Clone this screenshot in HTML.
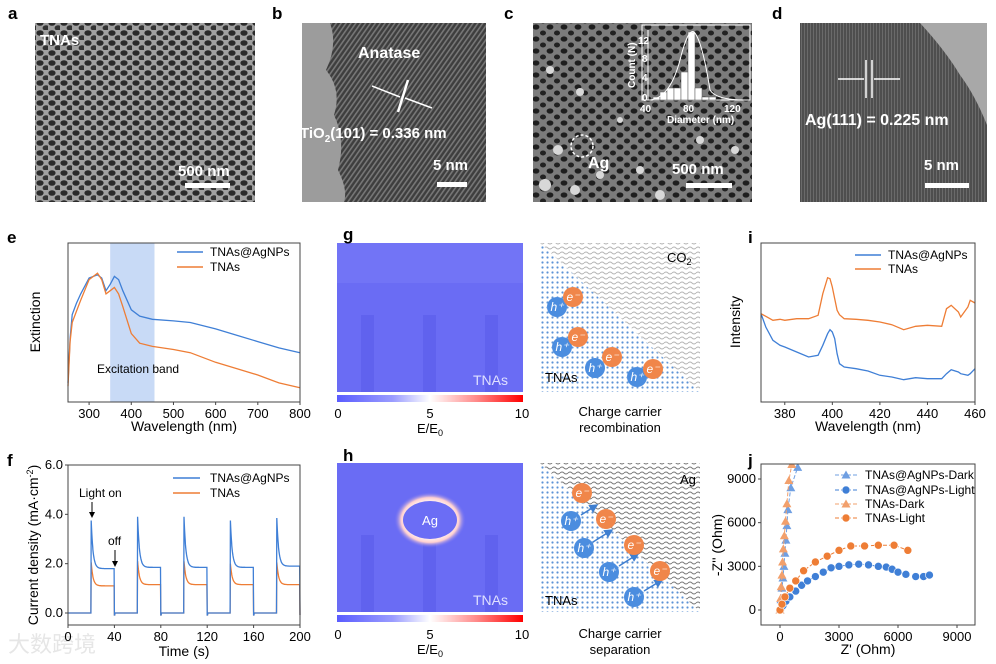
<!DOCTYPE html>
<html><head><meta charset="utf-8"><style>
html,body{margin:0;padding:0;background:#fff;}
svg{display:block;font-family:"Liberation Sans",Arial,sans-serif;}
</style></head><body>
<svg id="fig" width="996" height="664" viewBox="0 0 996 664" xmlns="http://www.w3.org/2000/svg">
<defs>
<pattern id="semA" patternUnits="userSpaceOnUse" width="12" height="10">
<rect width="12" height="10" fill="#a0a0a0"/><ellipse cx="4" cy="3" rx="3.6" ry="2.8" fill="#2a2a2a"/><ellipse cx="10" cy="8" rx="3.4" ry="2.7" fill="#333"/></pattern>
<pattern id="semC" patternUnits="userSpaceOnUse" width="14" height="12">
<rect width="14" height="12" fill="#7c7c7c"/><ellipse cx="4" cy="3" rx="3.4" ry="2.6" fill="#1e1e1e"/><ellipse cx="11" cy="9" rx="3" ry="2.5" fill="#222"/></pattern>
<pattern id="latB" patternUnits="userSpaceOnUse" width="4" height="4" patternTransform="rotate(35)">
<rect width="4" height="4" fill="#3e3e3e"/><rect width="1.6" height="4" fill="#777"/></pattern>
<pattern id="latD" patternUnits="userSpaceOnUse" width="3" height="3">
<rect width="3" height="3" fill="#4e4e4e"/><rect width="1" height="3" fill="#6a6a6a"/></pattern>
<pattern id="dotBlue" patternUnits="userSpaceOnUse" width="5" height="5">
<rect width="5" height="5" fill="#fff"/><circle cx="2.5" cy="2.5" r="1.1" fill="#5d93d6"/></pattern>
<pattern id="wavGray" patternUnits="userSpaceOnUse" width="8" height="5">
<rect width="8" height="5" fill="#fff"/><path d="M0 3 Q2 1 4 3 T8 3" stroke="#b4b4b4" stroke-width="0.9" fill="none"/></pattern>
<pattern id="wavDark" patternUnits="userSpaceOnUse" width="8" height="5">
<rect width="8" height="5" fill="#fff"/><path d="M0 3 Q2 1 4 3 T8 3" stroke="#777" stroke-width="0.9" fill="none"/></pattern>
<linearGradient id="cbar" x1="0" x2="1" y1="0" y2="0">
<stop offset="0" stop-color="#5a5cff"/><stop offset="0.3" stop-color="#9a9cff"/><stop offset="0.5" stop-color="#ffffff"/><stop offset="0.75" stop-color="#ff8a8a"/><stop offset="1" stop-color="#ff0000"/></linearGradient>
<radialGradient id="agglow" cx="0.5" cy="0.5" r="0.5">
<stop offset="0.6" stop-color="#ffffff"/><stop offset="0.8" stop-color="#ffd0d0"/><stop offset="1" stop-color="#6b6df5" stop-opacity="0"/></radialGradient>
<marker id="arr" markerWidth="6" markerHeight="6" refX="5" refY="3" orient="auto"><path d="M0 0 L6 3 L0 6 z" fill="#000"/></marker>
<marker id="arrB" markerWidth="6" markerHeight="6" refX="5" refY="3" orient="auto"><path d="M0 0 L6 3 L0 6 z" fill="#3f7fd0"/></marker>
</defs>

<!-- a -->
<g>
<rect x="35" y="23" width="220" height="179" fill="url(#semA)"/>
<text x="40" y="45" fill="#fff" font-weight="bold" font-size="15">TNAs</text>
<text x="178" y="176" fill="#fff" font-weight="bold" font-size="15">500 nm</text>
<rect x="185" y="183" width="45" height="5" fill="#fff"/>
</g>
<!-- b -->
<g>
<rect x="302" y="23" width="184" height="179" fill="url(#latB)"/>
<path d="M302 23 L330 23 Q338 45 326 70 Q342 90 334 115 Q346 140 338 170 Q348 190 344 202 L302 202 Z" fill="#9c9c9c"/>
<text x="358" y="58" fill="#fff" font-weight="bold" font-size="16">Anatase</text>
<line x1="398" y1="112" x2="408" y2="80" stroke="#fff" stroke-width="2.5"/>
<line x1="372" y1="86" x2="400" y2="97" stroke="#fff" stroke-width="1.5"/>
<line x1="432" y1="108" x2="405" y2="98" stroke="#fff" stroke-width="1.5"/>
<text x="300" y="138" fill="#fff" font-weight="bold" font-size="15">TiO<tspan font-size="10" dy="4">2</tspan><tspan dy="-4">(101) = 0.336 nm</tspan></text>
<text x="433" y="170" fill="#fff" font-weight="bold" font-size="15">5 nm</text>
<rect x="437" y="182" width="30" height="5" fill="#fff"/>
</g>
<!-- c -->
<g>
<rect x="533" y="23" width="219" height="179" fill="url(#semC)"/>
<g fill="#d8d8d8"><circle cx="550" cy="70" r="4"/><circle cx="558" cy="150" r="5"/><circle cx="545" cy="185" r="6"/><circle cx="575" cy="190" r="5"/><circle cx="600" cy="175" r="4"/><circle cx="640" cy="170" r="4"/><circle cx="660" cy="195" r="5"/><circle cx="700" cy="140" r="4"/><circle cx="735" cy="150" r="4"/><circle cx="580" cy="92" r="4"/><circle cx="620" cy="120" r="3"/></g>
<circle cx="582" cy="146" r="11" fill="none" stroke="#fff" stroke-width="1.5" stroke-dasharray="3,2"/>
<text x="588" y="168" fill="#fff" font-weight="bold" font-size="16">Ag</text>
<g>
<rect x="642" y="25" width="108" height="75" fill="none" stroke="#fff" stroke-width="1"/>
<line x1="648" y1="30" x2="648" y2="100" stroke="#fff"/>
<line x1="648" y1="100" x2="748" y2="100" stroke="#fff"/>
<g fill="#fff" stroke="#555" stroke-width="0.5">
<rect x="653" y="97" width="7" height="3"/><rect x="660" y="92" width="7" height="8"/><rect x="667" y="88" width="7" height="12"/><rect x="674" y="88" width="7" height="12"/><rect x="681" y="72" width="7" height="28"/><rect x="688" y="32" width="7" height="68"/><rect x="695" y="88" width="7" height="12"/><rect x="702" y="97" width="7" height="3"/><rect x="709" y="97" width="7" height="3"/></g>
<path d="M650 100 Q670 98 680 60 Q688 28 694 32 Q702 40 710 90 Q716 100 745 100" fill="none" stroke="#fff" stroke-width="1"/>
<g fill="#fff" font-size="10" font-weight="bold"><text x="638" y="44">12</text><text x="642" y="62">8</text><text x="642" y="81">4</text><text x="642" y="101">0</text>
<text x="640" y="112">40</text><text x="683" y="112">80</text><text x="724" y="112">120</text>
<text x="667" y="123">Diameter (nm)</text>
<text x="0" y="0" transform="translate(635,88) rotate(-90)">Count (N)</text></g>
</g>
<text x="672" y="174" fill="#fff" font-weight="bold" font-size="15">500 nm</text>
<rect x="686" y="183" width="46" height="5" fill="#fff"/>
</g>
<!-- d -->
<g>
<rect x="800" y="23" width="187" height="179" fill="url(#latD)"/>
<path d="M920 23 L987 23 L987 125 Q975 95 960 75 Q945 50 920 23 Z" fill="#a8a8a8"/>
<line x1="866" y1="60" x2="866" y2="98" stroke="#fff" stroke-width="1.5"/>
<line x1="872" y1="60" x2="872" y2="98" stroke="#fff" stroke-width="1.5"/>
<line x1="838" y1="79" x2="864" y2="79" stroke="#fff" stroke-width="1.5"/>
<line x1="900" y1="79" x2="874" y2="79" stroke="#fff" stroke-width="1.5"/>
<text x="805" y="125" fill="#fff" font-weight="bold" font-size="16">Ag(111) = 0.225 nm</text>
<text x="924" y="170" fill="#fff" font-weight="bold" font-size="15">5 nm</text>
<rect x="925" y="183" width="44" height="5" fill="#fff"/>
</g>

<!-- g heatmap -->
<g>
<rect x="337" y="243" width="186" height="149" fill="#6a6cf4"/>
<rect x="337" y="243" width="186" height="40" fill="#7274f6"/>
<rect x="361" y="315" width="13" height="77" fill="#6062ee"/>
<rect x="423" y="315" width="13" height="77" fill="#6062ee"/>
<rect x="485" y="315" width="13" height="77" fill="#6062ee"/>
<text x="473" y="385" fill="#dfe0ff" font-size="14">TNAs</text>
<rect x="337" y="395" width="186" height="7" fill="url(#cbar)"/>
<g font-size="13" text-anchor="middle"><text x="338" y="418">0</text><text x="430" y="418">5</text><text x="522" y="418">10</text>
<text x="430" y="433">E/E<tspan font-size="9" dy="3">0</tspan></text></g>
</g>
<!-- g schematic -->
<g>
<polygon points="540,243 700,243 700,392" fill="url(#wavGray)"/>
<polygon points="540,243 700,392 540,392" fill="url(#dotBlue)"/>
<text x="667" y="262" font-size="13">CO<tspan font-size="9" dy="3">2</tspan></text>
<text x="545" y="382" font-size="13">TNAs</text>
<g font-size="12" font-style="italic" fill="#fff" text-anchor="middle">
<circle cx="557" cy="307" r="10" fill="#4b8ddf"/><text x="557" y="311">h⁺</text>
<circle cx="573" cy="297" r="10" fill="#f0864a"/><text x="573" y="301">e⁻</text>
<circle cx="562" cy="347" r="10" fill="#4b8ddf"/><text x="562" y="351">h⁺</text>
<circle cx="578" cy="337" r="10" fill="#f0864a"/><text x="578" y="341">e⁻</text>
<circle cx="595" cy="368" r="10" fill="#4b8ddf"/><text x="595" y="372">h⁺</text>
<circle cx="612" cy="357" r="10" fill="#f0864a"/><text x="612" y="361">e⁻</text>
<circle cx="637" cy="377" r="10" fill="#4b8ddf"/><text x="637" y="381">h⁺</text>
<circle cx="653" cy="369" r="10" fill="#f0864a"/><text x="653" y="373">e⁻</text></g>
<g font-size="13" text-anchor="middle"><text x="620" y="416">Charge carrier</text><text x="620" y="432">recombination</text></g>
</g>

<!-- h heatmap -->
<g>
<rect x="337" y="463" width="186" height="149" fill="#6a6cf4"/>
<rect x="361" y="535" width="13" height="77" fill="#6062ee"/>
<rect x="423" y="535" width="13" height="77" fill="#6062ee"/>
<rect x="485" y="535" width="13" height="77" fill="#6062ee"/>
<ellipse cx="430" cy="520" rx="36" ry="28" fill="url(#agglow)"/>
<ellipse cx="430" cy="520" rx="27" ry="19" fill="#6b6df5"/>
<text x="430" y="525" fill="#fff" font-size="13" text-anchor="middle">Ag</text>
<text x="473" y="605" fill="#dfe0ff" font-size="14">TNAs</text>
<rect x="337" y="615" width="186" height="7" fill="url(#cbar)"/>
<g font-size="13" text-anchor="middle"><text x="338" y="639">0</text><text x="430" y="639">5</text><text x="522" y="639">10</text>
<text x="430" y="654">E/E<tspan font-size="9" dy="3">0</tspan></text></g>
</g>
<!-- h schematic -->
<g>
<polygon points="540,463 700,463 700,612" fill="url(#wavDark)"/>
<polygon points="540,463 700,612 540,612" fill="url(#dotBlue)"/>
<text x="680" y="484" font-size="13">Ag</text>
<text x="545" y="605" font-size="13">TNAs</text>
<g stroke="#3f7fd0" stroke-width="1.5" marker-end="url(#arrB)">
<line x1="581" y1="515" x2="597" y2="505"/><line x1="593" y1="542" x2="612" y2="530"/><line x1="619" y1="566" x2="638" y2="554"/><line x1="644" y1="591" x2="662" y2="580"/></g>
<g font-size="12" font-style="italic" fill="#fff" text-anchor="middle">
<circle cx="582" cy="493" r="10" fill="#f0864a"/><text x="582" y="497">e⁻</text>
<circle cx="571" cy="521" r="10" fill="#4b8ddf"/><text x="571" y="525">h⁺</text>
<circle cx="606" cy="519" r="10" fill="#f0864a"/><text x="606" y="523">e⁻</text>
<circle cx="584" cy="548" r="10" fill="#4b8ddf"/><text x="584" y="552">h⁺</text>
<circle cx="634" cy="545" r="10" fill="#f0864a"/><text x="634" y="549">e⁻</text>
<circle cx="609" cy="572" r="10" fill="#4b8ddf"/><text x="609" y="576">h⁺</text>
<circle cx="660" cy="571" r="10" fill="#f0864a"/><text x="660" y="575">e⁻</text>
<circle cx="634" cy="597" r="10" fill="#4b8ddf"/><text x="634" y="601">h⁺</text></g>
<g font-size="13" text-anchor="middle"><text x="620" y="638">Charge carrier</text><text x="620" y="654">separation</text></g>
</g>

<text x="8" y="652" font-size="22" fill="#e6e6e6" font-family="'Liberation Sans','Noto Sans CJK SC',sans-serif">大数跨境</text>

<!-- panel labels (on top) -->
<g font-weight="bold" font-size="17" fill="#000">
<text x="8" y="19">a</text>
<text x="272" y="19">b</text>
<text x="504" y="19">c</text>
<text x="772" y="19">d</text>
<text x="7" y="243">e</text>
<text x="343" y="240">g</text>
<text x="748" y="243">i</text>
<text x="7" y="466">f</text>
<text x="343" y="461">h</text>
<text x="748" y="466">j</text>
</g>
</svg>
<script>
// ---- data: panel e ----
const eWl = [250,255,260,270,280,300,320,330,340,350,360,370,380,400,420,450,500,540,600,650,700,750,800];
const eBlue = [0.12,0.40,0.55,0.62,0.68,0.78,0.80,0.78,0.70,0.74,0.79,0.77,0.70,0.58,0.54,0.52,0.51,0.50,0.46,0.42,0.38,0.34,0.31];
const eOrange = [0.10,0.38,0.50,0.57,0.64,0.77,0.81,0.77,0.68,0.70,0.72,0.68,0.60,0.43,0.37,0.35,0.33,0.31,0.25,0.21,0.17,0.12,0.09];
const eTicks = [300,400,500,600,700,800];
const eBand = [350,455];
// ---- data: panel f ----
const fOnTimes = [20,60,100,140,180];
const fBluePeak = [3.75,3.9,3.9,3.75,3.85];
const fBlueSteady = [1.8,1.85,1.85,1.85,1.9];
const fOrangePeak = [2.05,2.1,2.1,2.0,2.05];
const fOrangeSteady = [1.1,1.15,1.15,1.15,1.15];
const fXTicks = [0,40,80,120,160,200];
const fYTicks = [0,2,4,6];
// ---- data: panel i ----
const iWl = [370,372,375,378,380,385,390,394,396,398,399,400,401,402,403,405,410,415,420,425,430,435,440,446,448,450,453,454,457,458,460];
const iOrange = [265,257,245,248,245,250,250,260,325,373,370,345,310,275,262,250,248,245,240,232,217,227,230,227,280,290,270,255,285,305,297];
const iBlue = [265,225,185,170,165,150,135,140,170,205,217,210,190,145,115,105,100,93,80,75,67,73,70,70,85,97,90,85,80,85,100];
const iTicks = [380,400,420,440,460];
// ---- data: panel j ----
const jBlueLightX = [0,50,150,300,500,800,1100,1400,1800,2200,2600,3000,3500,4000,4500,5000,5400,5700,6000,6400,6900,7300,7600];
const jBlueLightY = [0,100,300,600,900,1300,1700,2000,2300,2600,2900,3000,3100,3150,3100,3000,2950,2800,2600,2450,2300,2300,2400];
const jOrangeLightX = [0,100,250,500,800,1200,1800,2400,3000,3600,4300,5000,5800,6500];
const jOrangeLightY = [0,400,900,1500,2000,2700,3300,3700,4100,4400,4400,4450,4450,4100];
const jBlueDarkX = [0,50,100,150,200,250,300,350,400,550,900];
const jBlueDarkY = [0,700,1500,2200,3000,3900,4800,5800,6900,8400,9800];
const jOrangeDarkX = [0,30,60,100,130,170,220,280,350,450,600];
const jOrangeDarkY = [0,800,1600,2400,3300,4200,5100,6100,7300,8900,10000];
const jTicks = [0,3000,6000,9000];

const NS='http://www.w3.org/2000/svg';
const svg=document.getElementById('fig');
function mk(tag,attrs,parent){const e=document.createElementNS(NS,tag);for(const k in attrs)e.setAttribute(k,attrs[k]);(parent||svg).appendChild(e);return e;}
function lin(d0,d1,r0,r1){return v=>r0+(v-d0)*(r1-r0)/(d1-d0);}
const BLUE='#3f7fd6', ORANGE='#ee7d35';
function txt(x,y,s,attrs,parent){const t=mk('text',Object.assign({x:x,y:y,'font-size':13},attrs||{}),parent);t.textContent=s;return t;}
function pathFrom(xs,ys,sx,sy){return xs.map((v,i)=>(i?'L':'M')+sx(v).toFixed(1)+' '+sy(ys[i]).toFixed(1)).join(' ');}

// ===== panel e =====
(function(){
 const g=mk('g',{});
 
 
 const X0=68,X1=300,Y0=402,Y1=243;
 const sx=lin(250,800,X0,X1), sy=lin(0,1,Y0,Y1);
 const band=mk('rect',{x:sx(eBand[0]),y:Y1,width:sx(eBand[1])-sx(eBand[0]),height:Y0-Y1,fill:'#c8daf6'},g);
 
 
 const bt=txt(97,373,'Excitation band',{'font-size':12},g);
 
 
 const pb=mk('path',{d:pathFrom(eWl,eBlue,sx,sy),fill:'none',stroke:BLUE,'stroke-width':1.3},g);
 
 
 const po=mk('path',{d:pathFrom(eWl,eOrange,sx,sy),fill:'none',stroke:ORANGE,'stroke-width':1.3},g);
 
 
 const fr=mk('rect',{x:X0,y:Y1,width:X1-X0,height:Y0-Y1,fill:'none',stroke:'#444','stroke-width':1},g);
 
 
 eTicks.forEach(t=>{mk('line',{x1:sx(t),x2:sx(t),y1:Y0,y2:Y0+3,stroke:'#444'},g);
  const l=txt(sx(t),Y0+16,String(t),{'text-anchor':'middle'},g);
  
  });
 const xt=txt(184,431,'Wavelength (nm)',{'text-anchor':'middle','font-size':14},g);
 
 
 const yt=txt(0,0,'Extinction',{'text-anchor':'middle','font-size':14,transform:'translate(40,322) rotate(-90)'},g);
 
 
 [[BLUE,'TNAs@AgNPs',252],[ORANGE,'TNAs',267]].forEach(([c,s,y])=>{
  const le=mk('g',{},g);
  
  
  mk('line',{x1:177,x2:203,y1:y,y2:y,stroke:c,'stroke-width':1.5},le);
  txt(210,y+4,s,{'font-size':12},le);});
})();

// ===== panel f =====
(function(){
 const g=mk('g',{});
 
 
 const X0=68,X1=300,Y0=625,Y1=465;
 const sx=lin(0,200,X0,X1), sy=lin(0,6,613,465);
 function series(peaks,steady){
  const xs=[],ys=[];
  for(let t=0;t<=200;t+=0.25){
   let v=0;
   fOnTimes.forEach((on,k)=>{ if(t>=on && t<on+20){ v=steady[k]+(peaks[k]-steady[k])*Math.exp(-(t-on)/1.6); } });
   fOnTimes.forEach(on=>{ if(t>=on+20 && t<on+20.5) v=-0.08; });
   xs.push(t); ys.push(v);
  }
  return pathFrom(xs,ys,sx,sy);
 }
 const po=mk('path',{d:series(fOrangePeak,fOrangeSteady),fill:'none',stroke:ORANGE,'stroke-width':1.3},g);
 
 
 const pb=mk('path',{d:series(fBluePeak,fBlueSteady),fill:'none',stroke:BLUE,'stroke-width':1.3},g);
 
 
 const fr=mk('rect',{x:X0,y:Y1,width:X1-X0,height:Y0-Y1,fill:'none',stroke:'#444'},g);
 
 
 fXTicks.forEach(t=>{mk('line',{x1:sx(t),x2:sx(t),y1:Y0,y2:Y0+3,stroke:'#444'},g);
  const l=txt(sx(t),Y0+16,String(t),{'text-anchor':'middle'},g);
  
  });
 fYTicks.forEach(t=>{mk('line',{x1:X0-3,x2:X0,y1:sy(t),y2:sy(t),stroke:'#444'},g);
  const l=txt(X0-5,sy(t)+4,t.toFixed(1),{'text-anchor':'end'},g);
  
  });
 const xt=txt(184,656,'Time (s)',{'text-anchor':'middle','font-size':14},g);
 
 
 const yt=mk('text',{'text-anchor':'middle','font-size':14,transform:'translate(38,545) rotate(-90)'},g);
 yt.innerHTML='Current density (mA·cm<tspan font-size="9" dy="-5">-2</tspan><tspan dy="5">)</tspan>';
 
 
 const a1=txt(79,497,'Light on',{'font-size':12},g);
 
 
 mk('line',{x1:92,x2:92,y1:502,y2:517,stroke:'#000','marker-end':'url(#arr)'},g);
 const a2=txt(108,545,'off',{'font-size':12},g);
 
 
 mk('line',{x1:115,x2:115,y1:550,y2:566,stroke:'#000','marker-end':'url(#arr)'},g);
 [[BLUE,'TNAs@AgNPs',478],[ORANGE,'TNAs',493]].forEach(([c,s,y])=>{
  const le=mk('g',{},g);
  
  
  mk('line',{x1:173,x2:200,y1:y,y2:y,stroke:c,'stroke-width':1.5},le);
  txt(210,y+4,s,{'font-size':12},le);});
})();

// ===== panel i =====
(function(){
 const g=mk('g',{});
 
 
 const X0=761,X1=975,Y0=402,Y1=243;
 const sx=lin(370,460,X0,X1), sy=lin(0,477,Y0,Y1);
 const pb=mk('path',{d:pathFrom(iWl,iBlue,sx,sy),fill:'none',stroke:BLUE,'stroke-width':1.3},g);
 
 
 const po=mk('path',{d:pathFrom(iWl,iOrange,sx,sy),fill:'none',stroke:ORANGE,'stroke-width':1.3},g);
 
 
 const fr=mk('rect',{x:X0,y:Y1,width:X1-X0,height:Y0-Y1,fill:'none',stroke:'#444'},g);
 
 
 iTicks.forEach(t=>{mk('line',{x1:sx(t),x2:sx(t),y1:Y0,y2:Y0+3,stroke:'#444'},g);
  const l=txt(sx(t),Y0+16,String(t),{'text-anchor':'middle'},g);
  
  });
 const xt=txt(868,431,'Wavelength (nm)',{'text-anchor':'middle','font-size':14},g);
 
 
 const yt=txt(0,0,'Intensity',{'text-anchor':'middle','font-size':14,transform:'translate(740,322) rotate(-90)'},g);
 
 
 [[BLUE,'TNAs@AgNPs',255],[ORANGE,'TNAs',269]].forEach(([c,s,y])=>{
  const le=mk('g',{},g);
  
  
  mk('line',{x1:855,x2:881,y1:y,y2:y,stroke:c,'stroke-width':1.5},le);
  txt(888,y+4,s,{'font-size':12},le);});
})();

// ===== panel j =====
(function(){
 const g=mk('g',{});
 
 
 const X0=761,X1=975,Y0=625,Y1=464;
 const sx=lin(0,9000,780,957), sy=lin(0,9000,610,479);
 const clip=mk('clipPath',{id:'jclip'},g);
 mk('rect',{x:X0,y:Y1,width:X1-X0,height:Y0-Y1},clip);
 const LB='#6f9fe2', LO='#f2a06c';
 const sets=[[jBlueDarkX,jBlueDarkY,LB,'tri','series-agnps-dark'],[jOrangeDarkX,jOrangeDarkY,LO,'tri','series-tnas-dark'],[jBlueLightX,jBlueLightY,BLUE,'cir','series-agnps-light'],[jOrangeLightX,jOrangeLightY,ORANGE,'cir','series-tnas-light']];
 function marker(type,x,y,c,parent){
  if(type==='tri') return mk('path',{d:`M${x} ${y-4.5} L${x+4.5} ${y+3.5} L${x-4.5} ${y+3.5} Z`,fill:c},parent);
  return mk('circle',{cx:x,cy:y,r:4,fill:c,stroke:'#fff','stroke-width':0.6},parent);
 }
 sets.forEach(([xs,ys,c,type,name])=>{
  const sg=mk('g',{'clip-path':'url(#jclip)'},g);
  
  
  mk('path',{d:pathFrom(xs,ys,sx,sy),fill:'none',stroke:c,'stroke-width':1,'stroke-dasharray':'4,2'},sg);
  xs.forEach((v,i)=>{const m=marker(type,sx(v),sy(ys[i]),c,sg);
   
   });
 });
 const fr=mk('rect',{x:X0,y:Y1,width:X1-X0,height:Y0-Y1,fill:'none',stroke:'#444'},g);
 
 
 jTicks.forEach(t=>{mk('line',{x1:sx(t),x2:sx(t),y1:Y0,y2:Y0+3,stroke:'#444'},g);
  const l=txt(sx(t),Y0+16,String(t),{'text-anchor':'middle'},g);
  
  
  mk('line',{x1:X0-3,x2:X0,y1:sy(t),y2:sy(t),stroke:'#444'},g);
  const m=txt(X0-5,sy(t)+4,String(t),{'text-anchor':'end'},g);
  
  });
 const xt=txt(868,654,"Z' (Ohm)",{'text-anchor':'middle','font-size':14},g);
 
 
 const yt=txt(0,0,"-Z'' (Ohm)",{'text-anchor':'middle','font-size':14,transform:'translate(722,545) rotate(-90)'},g);
 
 
 [[LB,'tri','TNAs@AgNPs-Dark',475],[BLUE,'cir','TNAs@AgNPs-Light',490],[LO,'tri','TNAs-Dark',504],[ORANGE,'cir','TNAs-Light',518]].forEach(([c,type,s,y])=>{
  const le=mk('g',{},g);
  
  
  mk('line',{x1:835,x2:857,y1:y,y2:y,stroke:c,'stroke-width':1,'stroke-dasharray':'4,2'},le);
  marker(type,846,y,c,le);
  txt(865,y+4,s,{'font-size':12},le);});
})();
</script>
</body></html>
